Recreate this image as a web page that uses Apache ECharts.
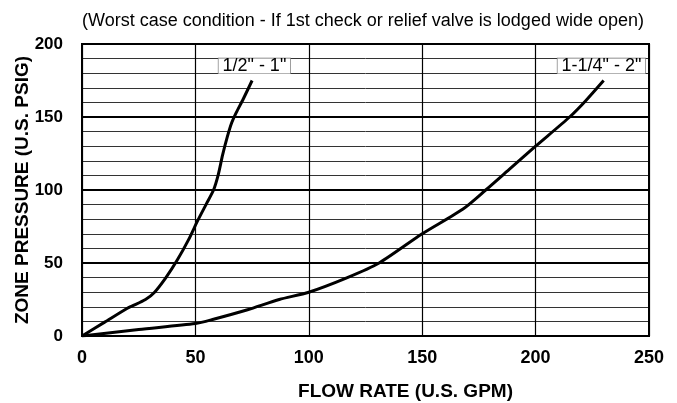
<!DOCTYPE html>
<html>
<head>
<meta charset="utf-8">
<script src="https://cdn.jsdelivr.net/npm/echarts@6/dist/echarts.min.js"></script>
<style>html,body{margin:0;padding:0;background:#fff}#c{width:677px;height:403px}</style>
</head>
<body>
<div id="c"></div>
<script>
const subtitle = '(Worst case condition - If 1st check or relief valve is lodged wide open)';
const xName = 'FLOW RATE (U.S. GPM)';
const yName = 'ZONE PRESSURE (U.S. PSIG)';
const seriesNames = ['1/2" - 1"', '1-1/4" - 2"'];
const smallFlow = [0, 10, 20, 22, 28, 32, 37, 42, 47, 51, 55, 58, 60, 62, 64, 66, 68, 71, 75];
const smallPressure = [0, 9.5, 19, 20.5, 25, 30, 40, 52, 66, 79, 91, 100, 110, 124, 136, 146, 153, 162, 175];
const largeFlow = [0, 25, 50, 58, 73, 87, 100, 117, 131, 150, 168, 178, 189, 200, 215, 222, 230];
const largePressure = [0, 4.5, 8.5, 11.5, 18, 25, 30, 40, 50, 70, 87, 100, 115, 130, 150, 161, 175];
const labelPos = [[76, 185], [229, 185]];

const font = '"Liberation Sans", Arial, sans-serif';
const chart = echarts.init(document.getElementById('c'));
function pairs(xs, ys) { return xs.map((x, i) => [x, ys[i]]); }
function mkLine(name, xs, ys) {
  return {
    type: 'line', name: name, data: pairs(xs, ys), showSymbol: false, smooth: 0.25,
    lineStyle: { color: '#000', width: 3 }, silent: true, z: 5
  };
}
function mkLabel(name, lp) {
  return {
    type: 'scatter', name: name + ' label', data: [lp], symbolSize: 1, silent: true, z: 6,
    itemStyle: { color: '#fff' },
    label: {
      show: true, position: 'inside', formatter: name, color: '#000', fontFamily: font, fontSize: 18,
      textBorderWidth: 0, textBorderColor: 'transparent', opacity: 1,
      backgroundColor: '#fff', borderColor: '#666', borderWidth: 0.6,
      padding: [0, 4, 0, 4], lineHeight: 15
    }
  };
}
chart.setOption({
  animation: false,
  title: {
    text: subtitle, left: 358, top: 7, textAlign: 'center',
    textStyle: { fontFamily: font, fontSize: 18, fontWeight: 'normal', color: '#000' }
  },
  grid: { left: 82, right: 28, top: 44, bottom: 67, show: true, borderColor: '#000', borderWidth: 2, z: 3,
          outerBoundsMode: 'none', containLabel: false },
  xAxis: {
    type: 'value', min: 0, max: 250, interval: 50,
    name: xName, nameLocation: 'middle', nameGap: 46, nameMoveOverlap: false,
    nameTextStyle: { fontFamily: font, fontSize: 19, fontWeight: 'bold', color: '#000', padding: [0, 0, 0, 80] },
    axisLine: { show: false }, axisTick: { show: false },
    axisLabel: { fontFamily: font, fontSize: 18, fontWeight: 'bold', color: '#000', margin: 13 },
    splitLine: { show: true, lineStyle: { color: '#000', width: 1.2 } }
  },
  yAxis: {
    type: 'value', min: 0, max: 200, interval: 50,
    name: yName, nameLocation: 'middle', nameGap: 50, nameMoveOverlap: false,
    nameTextStyle: { fontFamily: font, fontSize: 19, fontWeight: 'bold', color: '#000' },
    axisLine: { show: false }, axisTick: { show: false },
    axisLabel: { fontFamily: font, fontSize: 17, fontWeight: 'bold', color: '#000', margin: 19 },
    splitLine: { show: true, lineStyle: { color: '#000', width: 2 } },
    minorTick: { show: false, splitNumber: 5 },
    minorSplitLine: { show: true, lineStyle: { color: '#333', width: 1 } }
  },
  series: [
    mkLine(seriesNames[0], smallFlow, smallPressure),
    mkLine(seriesNames[1], largeFlow, largePressure),
    mkLabel(seriesNames[0], labelPos[0]),
    mkLabel(seriesNames[1], labelPos[1])
  ]
});
</script>
</body>
</html>
